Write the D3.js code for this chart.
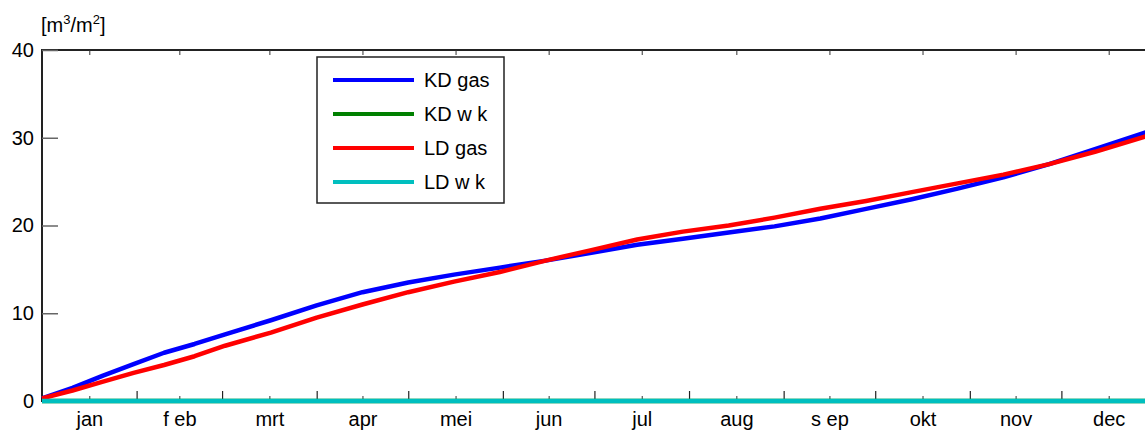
<!DOCTYPE html>
<html>
<head>
<meta charset="utf-8">
<script src="https://cdn.jsdelivr.net/npm/d3@7"></script>
<style>
  body { margin: 0; background: #fff; }
  svg text { font-family: "Liberation Sans", Arial, sans-serif; fill: #000; }
</style>
</head>
<body>
<div class="svg-container"></div>
<script>
// Data - day of year vs cumulative m3/m2
const days    = [0, 10, 20, 30, 40, 50, 60, 75, 90, 105, 120, 135, 150, 165, 180, 195, 210, 225, 240, 255, 270, 285, 300, 315, 330, 345, 365];
const kdGas   = [0.3, 1.5, 2.9, 4.2, 5.5, 6.5, 7.6, 9.2, 10.9, 12.4, 13.5, 14.4, 15.2, 16.0, 16.9, 17.8, 18.5, 19.2, 19.9, 20.8, 21.9, 23.0, 24.2, 25.5, 27.0, 28.7, 31.0];
const kdWk    = [0, 0, 0, 0, 0, 0, 0, 0, 0, 0, 0, 0, 0, 0, 0, 0, 0, 0, 0, 0, 0, 0, 0, 0, 0, 0, 0];
const ldGas   = [0.3, 1.2, 2.2, 3.2, 4.1, 5.1, 6.3, 7.8, 9.5, 11.0, 12.4, 13.6, 14.7, 16.0, 17.2, 18.4, 19.3, 20.0, 20.9, 21.9, 22.8, 23.8, 24.8, 25.8, 27.0, 28.4, 30.5];
const ldWk    = [0, 0, 0, 0, 0, 0, 0, 0, 0, 0, 0, 0, 0, 0, 0, 0, 0, 0, 0, 0, 0, 0, 0, 0, 0, 0, 0];

const seriesNames  = ['KD gas', 'KD w k', 'LD gas', 'LD w k'];
const seriesValues = [kdGas, kdWk, ldGas, ldWk];
const seriesColors = ['#0000ff', '#008000', '#ff0000', '#00bfbf'];

const monthLabels = ['jan', 'f eb', 'mrt', 'apr', 'mei', 'jun', 'jul', 'aug', 's ep', 'okt', 'nov', 'dec'];
const monthStarts = [0, 31, 59, 90, 120, 151, 181, 212, 243, 273, 304, 334, 365];
const yTicks = [0, 10, 20, 30, 40];

// layout
const W = 1145, H = 432;
const plot = {left: 42, right: 1156, top: 50, bottom: 401};

const xScale = d3.scaleLinear().domain([0, 365]).range([plot.left, plot.right]);
const yScale = d3.scaleLinear().domain([0, 40]).range([plot.bottom, plot.top]);

const svg = d3.select('.svg-container')
  .append('svg')
  .attr('width', W)
  .attr('height', H);

// mid-month positions for the labels
const monthMids = monthLabels.map((m, i) => (monthStarts[i] + monthStarts[i + 1]) / 2);

// frame
svg.append('rect')
  .attr('x', plot.left).attr('y', plot.top)
  .attr('width', plot.right - plot.left).attr('height', plot.bottom - plot.top)
  .attr('fill', 'none').attr('stroke', '#222').attr('stroke-width', 2);

// y axis (ticks inside)
const yAxis = d3.axisLeft(yScale).tickValues(yTicks).tickSize(-16).tickPadding(8);
const yAxisDraw = svg.append('g')
  .attr('class', 'y axis')
  .attr('transform', `translate(${plot.left},0)`)
  .call(yAxis);
yAxisDraw.select('.domain').remove();
yAxisDraw.selectAll('line').attr('stroke', '#666').attr('stroke-width', 1.5);
yAxisDraw.selectAll('text').style('font-size', '20px');

// x axis with month labels
const xAxis = d3.axisBottom(xScale)
  .tickValues(monthMids)
  .tickFormat((d, i) => monthLabels[i])
  .tickSize(-5)
  .tickPadding(11);
const xAxisDraw = svg.append('g')
  .attr('class', 'x axis')
  .attr('transform', `translate(0,${plot.bottom})`)
  .call(xAxis);
xAxisDraw.select('.domain').remove();
xAxisDraw.selectAll('line').attr('stroke', '#333');
xAxisDraw.selectAll('text').style('font-size', '20px').style('white-space', 'pre');

// month boundary ticks along bottom
const bAxis = d3.axisBottom(xScale)
  .tickValues(monthStarts.slice(1, 12))
  .tickFormat('')
  .tickSize(-10);
const bAxisDraw = svg.append('g')
  .attr('transform', `translate(0,${plot.bottom})`)
  .call(bAxis);
bAxisDraw.select('.domain').remove();
bAxisDraw.selectAll('line').attr('stroke', '#222').attr('stroke-width', 1.2);

// top ticks
const tAxis = d3.axisTop(xScale).tickValues(monthMids).tickFormat('').tickSize(-5);
const tAxisDraw = svg.append('g')
  .attr('transform', `translate(0,${plot.top})`)
  .call(tAxis);
tAxisDraw.select('.domain').remove();
tAxisDraw.selectAll('line').attr('stroke', '#333');

// unit label
const unit = svg.append('text')
  .attr('x', 41).attr('y', 32)
  .style('font-size', '20px');
unit.append('tspan').text('[m');
unit.append('tspan').text('3').style('font-size', '13px').attr('dy', -8);
unit.append('tspan').text('/m').attr('dy', 8);
unit.append('tspan').text('2').style('font-size', '13px').attr('dy', -8);
unit.append('tspan').text(']').attr('dy', 8);

// lines
const line = d3.line()
  .x((d, i) => xScale(days[i]))
  .y(d => yScale(d));

svg.append('g')
  .attr('class', 'lines')
  .selectAll('path')
  .data(seriesValues)
  .enter()
  .append('path')
  .attr('d', d => line(d))
  .attr('fill', 'none')
  .attr('stroke', (d, i) => seriesColors[i])
  .attr('stroke-width', 4.5)
  .attr('stroke-linejoin', 'round');

// legend
const legend = svg.append('g').attr('class', 'legend');
legend.append('rect')
  .attr('x', 317).attr('y', 57)
  .attr('width', 187).attr('height', 146)
  .attr('fill', '#fff').attr('stroke', '#222').attr('stroke-width', 1.5);

const items = legend.selectAll('.item')
  .data(seriesNames)
  .enter()
  .append('g')
  .attr('class', 'item')
  .attr('transform', (d, i) => `translate(0,${80 + i * 34})`);
items.append('line')
  .attr('x1', 333).attr('x2', 414)
  .attr('stroke', (d, i) => seriesColors[i])
  .attr('stroke-width', 4);
items.append('text')
  .attr('x', 424).attr('y', 7)
  .style('font-size', '20px')
  .text(d => d);
</script>
</body>
</html>
